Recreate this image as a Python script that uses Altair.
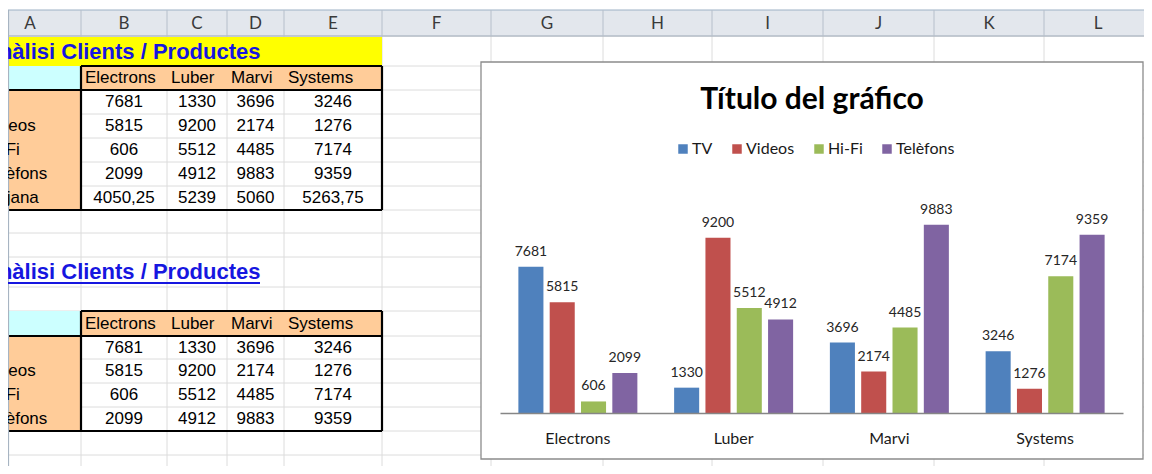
import altair as alt
import pandas as pd

# ---------------- data ----------------
clients = ["Electrons", "Luber", "Marvi", "Systems"]
series = ["TV", "Videos", "Hi-Fi", "Telèfons"]
tv = [7681, 1330, 3696, 3246]
videos = [5815, 9200, 2174, 1276]
hifi = [606, 5512, 4485, 7174]
telefons = [2099, 4912, 9883, 9359]
mitjana = ["4050,25", "5239", "5060", "5263,75"]
row_labels = ["TV", "Videos", "Hi-Fi", "Telèfons", "Mitjana"]
sheet_title = "Anàlisi Clients / Productes"
chart_title = "Título del gráfico"
col_letters = list("ABCDEFGHIJKL")
colors = ["#4F81BD", "#C0504D", "#9BBB59", "#8064A2"]

values = [tv, videos, hifi, telefons]

# ---------------- layout (page pixels) ----------------
W, H = 1136, 458
OX, OY = 8, 8
col_x = [-21, 81, 167, 227, 284, 382, 491, 603, 712, 823, 934, 1044, 1152]
row_y = [36, 66, 90, 114, 138, 162, 186, 210, 233, 257, 287, 311, 336,
         359, 383, 407, 431, 455, 479]

sx = alt.Scale(domain=[OX, OX + W], range=[0, W], nice=False, zero=False)
sy = alt.Scale(domain=[OY, OY + H], range=[0, H], nice=False, zero=False)


def mid_r(i):
    return (row_y[i] + row_y[i + 1]) / 2


def mid_c(i):
    return (col_x[i] + col_x[i + 1]) / 2


def rect_layer(rows, **mk):
    df = pd.DataFrame(rows, columns=["x1", "x2", "y1", "y2", "c"])
    return alt.Chart(df).mark_rect(clip=True, **mk).encode(
        x=alt.X("x1:Q", scale=sx, axis=None), x2="x2:Q",
        y=alt.Y("y1:Q", scale=sy, axis=None), y2="y2:Q",
        fill=alt.Fill("c:N", scale=None))


def rule_layer(rows, color, width):
    df = pd.DataFrame(rows, columns=["x1", "x2", "y1", "y2"])
    return alt.Chart(df).mark_rule(clip=True, color=color, strokeWidth=width).encode(
        x=alt.X("x1:Q", scale=sx, axis=None), x2="x2:Q",
        y=alt.Y("y1:Q", scale=sy, axis=None), y2="y2:Q")


def text_layer(rows, **mk):
    df = pd.DataFrame(rows, columns=["x", "y", "t"])
    return alt.Chart(df).mark_text(clip=True, **mk).encode(
        x=alt.X("x:Q", scale=sx, axis=None),
        y=alt.Y("y:Q", scale=sy, axis=None),
        text="t:N")


layers = []
# white sheet background
layers.append(rect_layer([[OX, 1152, OY, 479, "#ffffff"]]))
# grid lines
hl = [[OX, 1152, y, y] for y in row_y]
vl = [[x, x, 36, 479] for x in col_x[1:]]
layers.append(rule_layer(hl + vl, "#dcdcdc", 1))

# cell fills
YEL, CYA, ORA = "#FFFF00", "#CCFFFF", "#FFCC99"
fills = [
    [col_x[0], col_x[5], row_y[0] + 1, row_y[1], YEL],
    [col_x[0], col_x[1], row_y[1], row_y[2], CYA],
    [col_x[1], col_x[5], row_y[1], row_y[2], ORA],
    [col_x[0], col_x[1], row_y[2], row_y[7], ORA],
    [col_x[0], col_x[1], row_y[11], row_y[12], CYA],
    [col_x[1], col_x[5], row_y[11], row_y[12], ORA],
    [col_x[0], col_x[1], row_y[12], row_y[16], ORA],
]
layers.append(rect_layer(fills))

# thick table borders
borders = []
for top, hdr, bot in [(1, 2, 7), (11, 12, 16)]:
    borders += [
        [col_x[1], col_x[5], row_y[top], row_y[top]],
        [col_x[0], col_x[5], row_y[hdr], row_y[hdr]],
        [col_x[0], col_x[5], row_y[bot], row_y[bot]],
        [col_x[1], col_x[1], row_y[top], row_y[bot]],
        [col_x[5], col_x[5], row_y[top], row_y[bot]],
    ]
layers.append(rule_layer(borders, "#000000", 2.2))

# column header band
layers.append(rect_layer([[OX, 1152, 10, 36, "#e3e7ed"]]))
layers.append(rule_layer([[OX, 1152, 10, 10]], "#9eb1c6", 1.2))
layers.append(rule_layer([[OX, 1152, 36, 36]], "#9ba7b5", 1))
layers.append(rule_layer([[x, x, 10, 36] for x in col_x[1:]], "#b6bfcb", 1))
layers.append(rule_layer([[OX + 0.5, OX + 0.5, 10, 479]], "#a7b4c2", 1.2))
layers.append(text_layer([[mid_c(i), 23.5, col_letters[i]] for i in range(len(col_letters))],
                         font="Lato", fontSize=17, color="#3a3a3a",
                         align="center", baseline="middle"))

# sheet titles
BLUE = "#1616e0"
layers.append(text_layer([[-17, mid_r(0) + 0.5, sheet_title], [-17, mid_r(9), sheet_title]],
                         font="Liberation Sans", fontSize=22, fontWeight="bold",
                         color=BLUE, align="left", baseline="middle"))
layers.append(rule_layer([[OX, 260, 283, 283]], BLUE, 2))

# table texts
hdr_txt, val_txt, lab_txt = [], [], []
for hdr_row, first, nrows in [(1, 2, 5), (11, 12, 4)]:
    for j, name in enumerate(clients):
        hdr_txt.append([col_x[j + 1] + 4, mid_r(hdr_row), name])
    for r in range(nrows):
        lab_txt.append([-16, mid_r(first + r), row_labels[r]])
        for j in range(4):
            if r < 4:
                s = str(values[r][j])
            else:
                s = mitjana[j]
            val_txt.append([mid_c(j + 1), mid_r(first + r), s])
tfont = dict(font="Liberation Sans", fontSize=17, color="#000000", baseline="middle")
layers.append(text_layer(hdr_txt, align="left", **tfont))
layers.append(text_layer(lab_txt, align="left", **tfont))
layers.append(text_layer(val_txt, align="center", **tfont))

# chart box + chart title
layers.append(rect_layer([[481, 1143, 62, 459, "#ffffff"]], stroke="#8c8c8c", strokeWidth=1.3))
layers.append(text_layer([[812, 109, chart_title]], font="Lato", fontSize=30,
                         fontWeight="bold", color="#000000", align="center",
                         baseline="alphabetic"))

sheet = alt.layer(*layers)

# ---------------- bar chart ----------------
bar_rows = []
for s, vals in zip(series, values):
    for c, v in zip(clients, vals):
        bar_rows.append({"client": c, "series": s, "value": v})
bdf = pd.DataFrame(bar_rows)

xb = alt.X("client:N", sort=clients,
           scale=alt.Scale(range=[500 - OX, 1123 - OX], paddingInner=0.236, paddingOuter=0.118),
           axis=alt.Axis(orient="bottom", offset=-(OY + H - 413), title=None, ticks=False,
                         tickSize=0, domainColor="#868686", domainWidth=1.5,
                         labelFont="Lato", labelFontSize=16, labelColor="#1a1a1a",
                         labelPadding=17, labelAngle=0, grid=False, zindex=2))
xo = alt.XOffset("series:N", sort=series, scale=alt.Scale(paddingInner=0.2))
yb = alt.Y("value:Q", scale=alt.Scale(domain=[0, 10000], range=[413 - OY, 222.5 - OY], nice=False),
           axis=None)

bars = alt.Chart(bdf).mark_bar().encode(
    x=xb, xOffset=xo, y=yb,
    color=alt.Color("series:N", sort=series,
                    scale=alt.Scale(domain=series, range=colors),
                    legend=alt.Legend(orient="none", legendX=667, legendY=133,
                                      direction="horizontal", title=None,
                                      symbolType="square", symbolSize=90,
                                      symbolStrokeWidth=0, labelFont="Lato",
                                      labelFontSize=16, labelColor="#1a1a1a",
                                      columnPadding=16, labelOffset=1, padding=0)))
labels = alt.Chart(bdf).mark_text(font="Lato", fontSize=14, color="#262626",
                                  baseline="alphabetic", dy=-11).encode(
    x=xb, xOffset=xo, y=yb, text=alt.Text("value:Q", format="d"))

barlayer = alt.layer(bars, labels)

chart = alt.layer(sheet, barlayer).resolve_scale(
    x="independent", y="independent"
).properties(
    width=W, height=H, padding=0, autosize=alt.AutoSizeParams(type="none")
).configure_view(strokeWidth=0)

chart.save("out.html", embed_options={"renderer": "svg", "actions": False})
